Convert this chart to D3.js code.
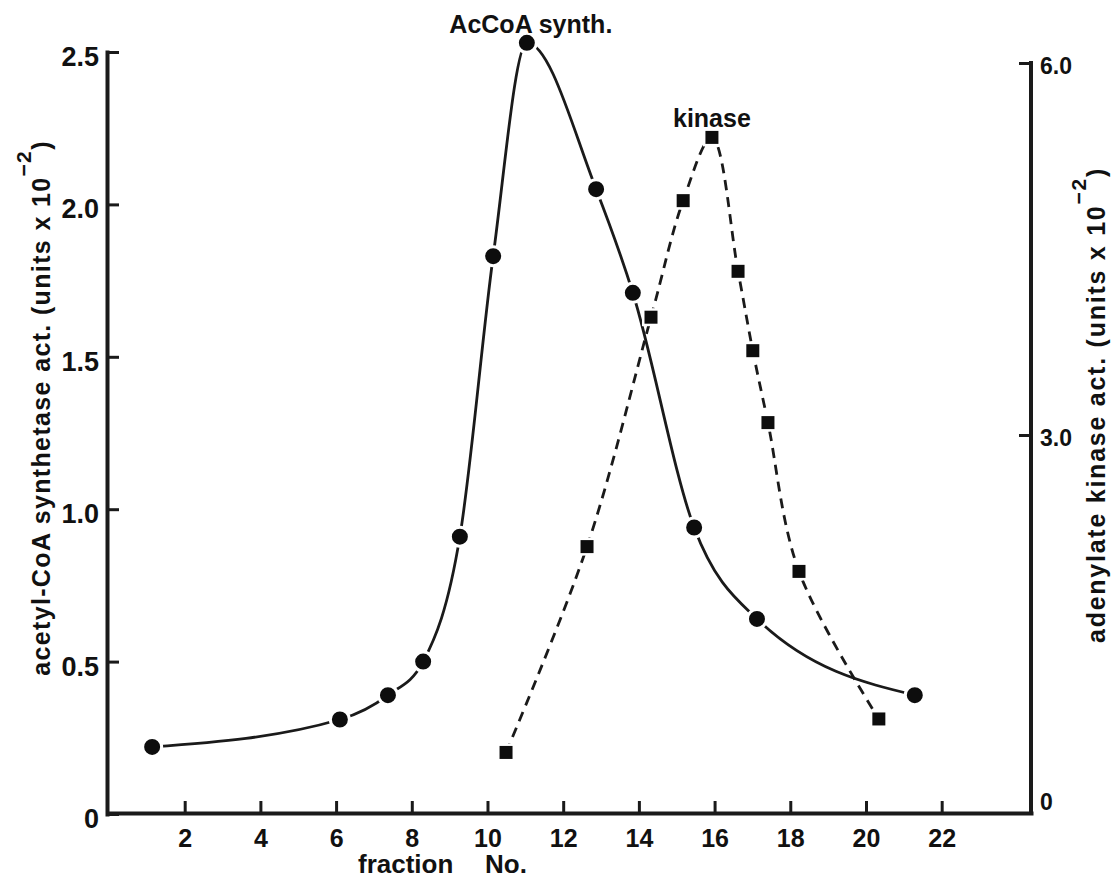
<!DOCTYPE html>
<html>
<head>
<meta charset="utf-8">
<script src="https://cdn.jsdelivr.net/npm/d3@7"></script>
<style>
  body { margin: 0; background: #fff; }
  svg { display: block; }
  text { font-family: "Liberation Sans", Arial, sans-serif; fill: #111; }
</style>
</head>
<body>
<div id="chart"></div>
<script>
// fraction numbers on the x axis
const fractionTicks = [2, 4, 6, 8, 10, 12, 14, 16, 18, 20, 22];

// acetyl-CoA synthetase (circles, left axis, units x 10^-2)
const accoaFraction = [1.14, 6.10, 7.37, 8.30, 9.27, 10.15, 11.04, 12.87, 13.84, 15.46, 17.12, 21.29];
const accoaActivity = [0.22, 0.31, 0.39, 0.50, 0.91, 1.83, 2.53, 2.05, 1.71, 0.94, 0.64, 0.39];

// adenylate kinase (squares, right axis, units x 10^-2)
const kinaseFraction = [10.49, 12.63, 14.32, 15.17, 15.93, 16.62, 17.01, 17.41, 18.23, 20.34];
const kinaseActivity = [0.44, 2.10, 3.95, 4.89, 5.40, 4.32, 3.68, 3.10, 1.90, 0.71];

const leftTicks = [0, 0.5, 1.0, 1.5, 2.0, 2.5];
const rightTicks = [0, 3.0, 6.0];

const width = 1115, height = 881;
const ink = "#1a1a1a";

const svg = d3.select("#chart").append("svg")
    .attr("width", width)
    .attr("height", height);

// scales
const x = d3.scaleLinear().domain([0, 24.36]).range([109, 1031]);
const yL = d3.scaleLinear().domain([0, 2.5]).range([814, 52]);
const yR = d3.scaleLinear().domain([0, 6]).range([807, 63]);
const baseY = 813;

const fmt = d => d === 0 ? "0" : d3.format(".1f")(d);

// bottom axis, ticks pointing inward
const gx = svg.append("g")
    .attr("transform", "translate(0," + baseY + ")")
    .call(d3.axisBottom(x).tickValues(fractionTicks).tickSizeInner(-12).tickSizeOuter(0).tickPadding(16));

// left axis
const gl = svg.append("g")
    .attr("transform", "translate(107,0)")
    .call(d3.axisLeft(yL).tickValues(leftTicks).tickSizeInner(-12).tickSizeOuter(0).tickPadding(8).tickFormat(fmt));

// right axis
const gr = svg.append("g")
    .attr("transform", "translate(1031,0)")
    .call(d3.axisRight(yR).tickValues(rightTicks).tickSizeInner(-12).tickSizeOuter(0).tickPadding(9).tickFormat(fmt));
gr.select(".domain").attr("d", "M0," + yR(6) + "V" + baseY);
gr.selectAll(".tick").filter(d => d === 0).select("line").remove();

[gx, gl, gr].forEach(g => {
    g.select(".domain").attr("stroke", ink).attr("stroke-width", 4).attr("stroke-linecap", "square");
    g.selectAll(".tick line").attr("stroke", ink).attr("stroke-width", 3);
    g.selectAll(".tick text")
        .attr("font-family", '"Liberation Sans", Arial, sans-serif')
        .attr("font-weight", "bold")
        .attr("fill", "#111");
});
gx.selectAll(".tick text").attr("font-size", 25);
gl.selectAll(".tick text").attr("font-size", 27).attr("dy", "0.5em");
gr.selectAll(".tick text").attr("font-size", 23).attr("dy", d => d === 0 ? "0.1em" : "0.45em");

// curves
const accoa = accoaFraction.map((f, i) => ({f: f, v: accoaActivity[i]}));
const kinase = kinaseFraction.map((f, i) => ({f: f, v: kinaseActivity[i]}));

const accoaLine = d3.line()
    .x(d => x(d.f))
    .y(d => yL(d.v))
    .curve(d3.curveMonotoneX);

const kinaseLine = d3.line()
    .x(d => x(d.f))
    .y(d => yR(d.v))
    .curve(d3.curveCatmullRom.alpha(0.5));

svg.append("path")
    .attr("d", kinaseLine(kinase))
    .attr("fill", "none")
    .attr("stroke", ink)
    .attr("stroke-width", 2.8)
    .attr("stroke-dasharray", "10,7");

svg.append("path")
    .attr("d", accoaLine(accoa))
    .attr("fill", "none")
    .attr("stroke", ink)
    .attr("stroke-width", 2.8);

// markers (white rim leaves the small gaps seen around the points)
svg.selectAll(".dot").data(accoa).enter().append("circle")
    .attr("class", "dot")
    .attr("cx", d => x(d.f))
    .attr("cy", d => yL(d.v))
    .attr("r", 9.5)
    .attr("fill", "#0d0d0d")
    .attr("stroke", "#fff")
    .attr("stroke-width", 3);

const sq = 15.5;
svg.selectAll(".sq").data(kinase).enter().append("rect")
    .attr("class", "sq")
    .attr("x", d => x(d.f) - sq / 2)
    .attr("y", d => yR(d.v) - sq / 2)
    .attr("width", sq)
    .attr("height", sq)
    .attr("fill", "#0d0d0d")
    .attr("stroke", "#fff")
    .attr("stroke-width", 2.5);

// peak labels
const ia = d3.maxIndex(accoa, d => d.v);
const ik = d3.maxIndex(kinase, d => d.v);
svg.append("text")
    .attr("x", x(accoa[ia].f) + 4)
    .attr("y", yL(accoa[ia].v) - 10)
    .attr("text-anchor", "middle")
    .attr("font-size", 25)
    .attr("font-weight", "bold")
    .text("AcCoA synth.");
svg.append("text")
    .attr("x", x(kinase[ik].f))
    .attr("y", yR(kinase[ik].v) - 10)
    .attr("text-anchor", "middle")
    .attr("font-size", 25)
    .attr("font-weight", "bold")
    .text("kinase");

// x axis title
const xt = svg.append("text")
    .attr("y", 873)
    .attr("font-size", 26)
    .attr("font-weight", "bold");
xt.append("tspan").attr("x", 358).text("fraction");
xt.append("tspan").attr("x", 485).text("No.");

// vertical titles
function yTitle(cx, cy, label, target) {
    const t = svg.append("text")
        .attr("transform", "translate(" + cx + "," + cy + ") rotate(-90)")
        .attr("text-anchor", "middle")
        .attr("font-size", 25)
        .attr("font-weight", "bold");
    t.append("tspan").text(label + " (units x 10");
    t.append("tspan").attr("dy", -19).attr("font-size", 21).text("\u22122");
    t.append("tspan").attr("dy", 19).text(")");
    // stretch letter spacing to the width seen in the figure
    const n = t.text().length;
    const len = t.node().getComputedTextLength();
    t.attr("letter-spacing", Math.max(0, (target - len) / n));
    return t;
}
yTitle(50, 408, "acetyl-CoA  synthetase act.", 537);
yTitle(1105, 405, "adenylate kinase act.", 476);
</script>
</body>
</html>
